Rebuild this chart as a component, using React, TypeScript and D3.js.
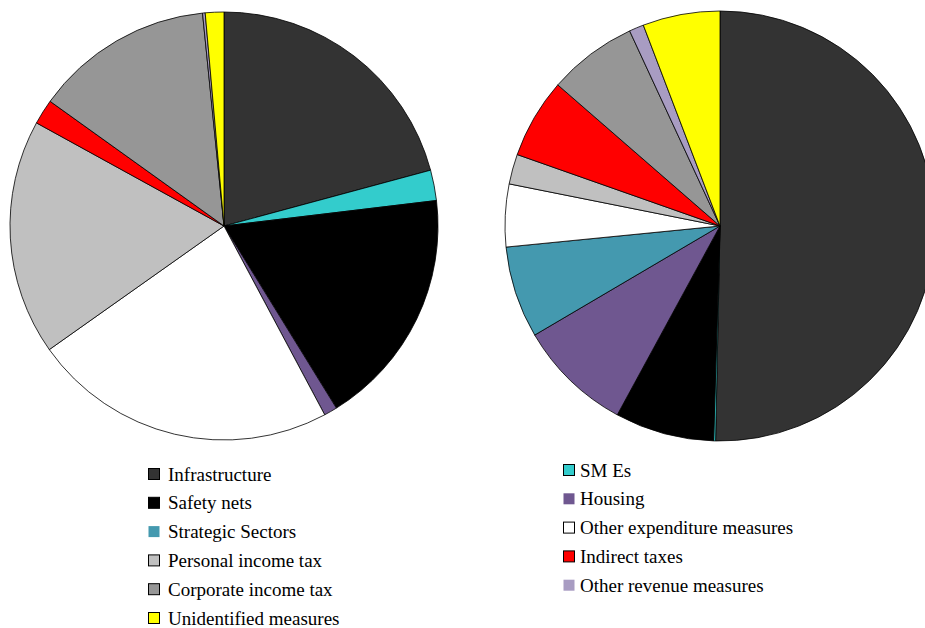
import React from "react";
import * as d3 from "d3";

const categories = [
  "Infrastructure",
  "SMEs",
  "Safety nets",
  "Housing",
  "Strategic Sectors",
  "Other expenditure measures",
  "Personal income tax",
  "Indirect taxes",
  "Corporate income tax",
  "Other revenue measures",
  "Unidentified measures",
];

const colors = [
  "#333333",
  "#33CCCC",
  "#000000",
  "#6F5790",
  "#4499AF",
  "#FFFFFF",
  "#C0C0C0",
  "#FF0000",
  "#969696",
  "#A89CC2",
  "#FFFF00",
];

// shares (in %)
const leftValues = [20.8, 2.3, 18.1, 1.0, 0, 23.0, 17.8, 1.9, 13.5, 0.2, 1.4];
const rightValues = [50.3, 0.15, 7.45, 8.6, 6.9, 4.7, 2.25, 6.0, 6.7, 1.1, 5.8];

const legendLeft = [
  "Infrastructure",
  "Safety nets",
  "Strategic Sectors",
  "Personal income tax",
  "Corporate income tax",
  "Unidentified measures",
];
const legendRight = [
  "SMEs",
  "Housing",
  "Other expenditure measures",
  "Indirect taxes",
  "Other revenue measures",
];
const legendLeftLabels = legendLeft;
const legendRightLabels = ["SM Es", "Housing", "Other expenditure measures", "Indirect taxes", "Other revenue measures"];

const noBorder = new Set(["Strategic Sectors", "Other revenue measures", "Housing"]);

function Pie({ values, cx, cy, r }: { values: number[]; cx: number; cy: number; r: number }) {
  const pie = d3.pie<number>().sort(null).value((d) => d)(values);
  const arc = d3.arc<d3.PieArcDatum<number>>().innerRadius(0).outerRadius(r);
  return (
    <g transform={`translate(${cx},${cy})`}>
      {pie.map((p, i) =>
        p.value > 0 ? (
          <path key={i} d={arc(p) || ""} fill={colors[i]} stroke="#000" strokeWidth={0.8} />
        ) : null
      )}
    </g>
  );
}

export default function App() {
  const font = "Liberation Serif, Times New Roman, serif";
  const colorOf = (name: string) => colors[categories.indexOf(name)];
  return (
    <svg width={925} height={628} style={{ position: "absolute", left: 0, top: 0, background: "#fff" }}>
      <Pie values={leftValues} cx={224} cy={226} r={214} />
      <Pie values={rightValues} cx={720} cy={226} r={215} />
      {legendLeft.map((name, i) => {
        const y = 474 + i * 28.8;
        return (
          <g key={name}>
            <rect x={148.5} y={y - 5.5} width={11} height={11} fill={colorOf(name)} stroke={noBorder.has(name) ? "none" : "#000"} strokeWidth={1} />
            <text x={168} y={y} dy="0.35em" fontFamily={font} fontSize={19} fill="#000">
              {legendLeftLabels[i]}
            </text>
          </g>
        );
      })}
      {legendRight.map((name, i) => {
        const y = 470 + i * 28.8;
        return (
          <g key={name}>
            <rect x={563.5} y={y - 5.5} width={11} height={11} fill={colorOf(name)} stroke={noBorder.has(name) ? "none" : "#000"} strokeWidth={1} />
            <text x={580} y={y} dy="0.35em" fontFamily={font} fontSize={19} fill="#000">
              {legendRightLabels[i]}
            </text>
          </g>
        );
      })}
    </svg>
  );
}
